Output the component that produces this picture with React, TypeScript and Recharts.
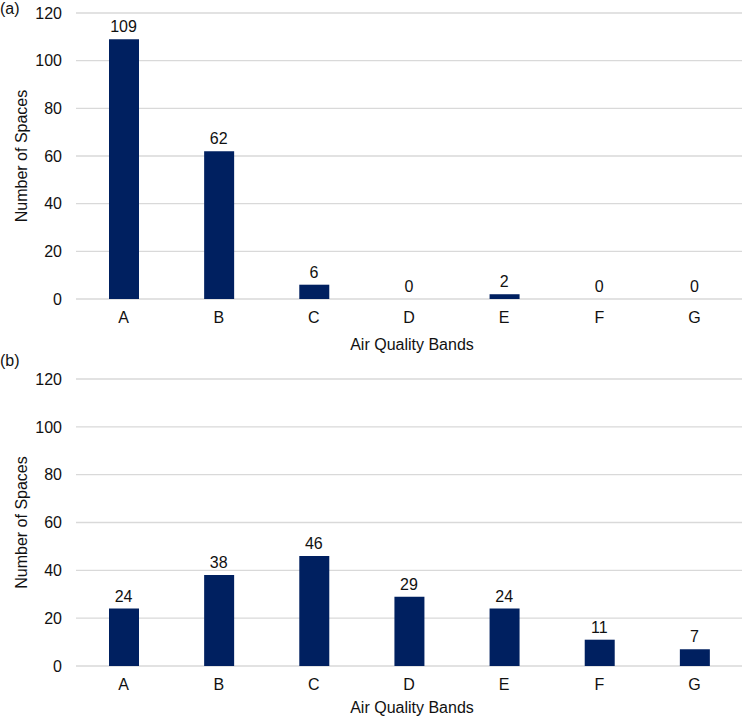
import { Bar, CartesianGrid, ComposedChart, Line, XAxis, YAxis } from "recharts";

const bands = ["A", "B", "C", "D", "E", "F", "G"];
const spacesA = [109, 62, 6, 0, 2, 0, 0];
const spacesB = [24, 38, 46, 29, 24, 11, 7];
const yTicks = [0, 20, 40, 60, 80, 100, 120];

const FONT = '"Liberation Sans", Arial, sans-serif';
const TEXT = "#111";
const BAR = "#002060";

type PanelProps = {
  tag: string;
  values: number[];
  top: number;
  plotHeight: number;
  titleOffset: number;
  tagBaseline: number;
};

// value label above each bar; hung on an invisible line so zero values get one too
function ValueLabel(props: any) {
  const { x, y, value } = props;
  if (x == null || y == null) return null;
  return (
    <text
      x={Number(x)}
      y={Number(y) - 7}
      textAnchor="middle"
      fill={TEXT}
      fontSize={16}
      fontFamily={FONT}
    >
      {value}
    </text>
  );
}

function Panel({ tag, values, top, plotHeight, titleOffset, tagBaseline }: PanelProps) {
  const data = bands.map((band, i) => ({ band, value: values[i] }));
  const height = 366;
  const xAxisHeight = height - top - plotHeight;

  return (
    <ComposedChart
      width={742}
      height={height}
      data={data}
      margin={{ top, right: 0, left: 0, bottom: 0 }}
    >
      <CartesianGrid vertical={false} stroke="#d9d9d9" strokeWidth={1.3} />
      <XAxis
        dataKey="band"
        height={xAxisHeight}
        axisLine={false}
        tickLine={false}
        tickSize={0}
        tickMargin={13}
        tick={{ fill: TEXT, fontSize: 16, fontFamily: FONT }}
        label={(props: any) => {
          const vb = props.viewBox;
          return (
            <text
              x={vb.x + vb.width / 2 + 3}
              y={vb.y + titleOffset}
              textAnchor="middle"
              fill={TEXT}
              fontSize={16}
              fontFamily={FONT}
            >
              Air Quality Bands
            </text>
          );
        }}
      />
      <YAxis
        width={76}
        domain={[0, 120]}
        ticks={yTicks}
        axisLine={false}
        tickLine={false}
        tickSize={0}
        tickMargin={14}
        tick={{ fill: TEXT, fontSize: 16, fontFamily: FONT }}
        label={(props: any) => {
          const vb = props.viewBox;
          const cx = 21;
          const cy = vb.y + vb.height / 2;
          return (
            <g>
              <text
                x={cx}
                y={cy}
                dy="0.35em"
                transform={`rotate(-90, ${cx}, ${cy})`}
                textAnchor="middle"
                fill={TEXT}
                fontSize={16}
                fontFamily={FONT}
              >
                Number of Spaces
              </text>
              <text x={0} y={tagBaseline} fill={TEXT} fontSize={16} fontFamily={FONT}>
                {tag}
              </text>
            </g>
          );
        }}
      />
      <Bar dataKey="value" fill={BAR} barSize={30} isAnimationActive={false} />
      <Line
        dataKey="value"
        stroke="none"
        dot={false}
        activeDot={false}
        label={ValueLabel}
        isAnimationActive={false}
      />
    </ComposedChart>
  );
}

export default function App() {
  return (
    <div
      style={{
        position: "absolute",
        left: 0,
        top: 0,
        width: 742,
        height: 716,
        overflow: "hidden",
        background: "#fff",
        fontFamily: FONT,
      }}
    >
      <div style={{ position: "absolute", left: 0, top: 0 }}>
        <Panel tag="(a)" values={spacesA} top={13} plotHeight={286} titleOffset={51} tagBaseline={14} />
      </div>
      <div style={{ position: "absolute", left: 0, top: 350 }}>
        <Panel tag="(b)" values={spacesB} top={29} plotHeight={287} titleOffset={47} tagBaseline={16} />
      </div>
    </div>
  );
}
